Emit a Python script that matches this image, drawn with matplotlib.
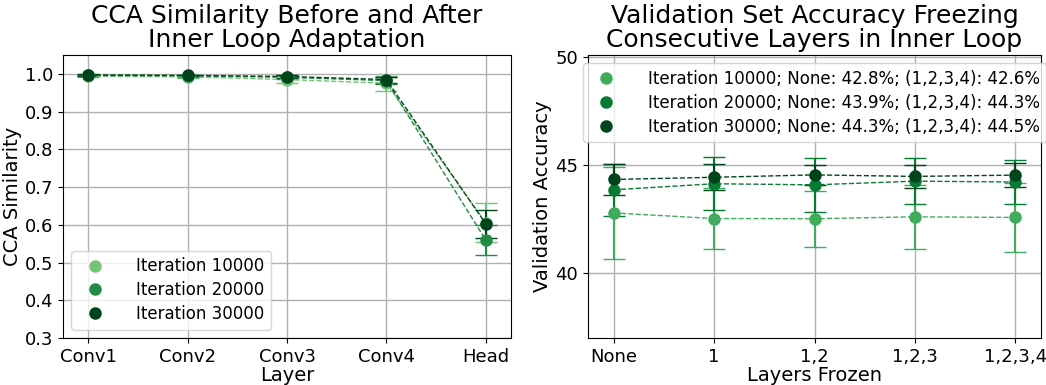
import matplotlib.pyplot as plt
import numpy as np

# left panel: CCA similarity per layer
layers = ["Conv1", "Conv2", "Conv3", "Conv4", "Head"]
cca_10k = [0.994, 0.992, 0.985, 0.975, 0.606]
cca_10k_err = [0.003, 0.004, 0.010, 0.020, 0.052]
cca_20k = [0.996, 0.995, 0.991, 0.982, 0.560]
cca_20k_err = [0.002, 0.003, 0.005, 0.010, 0.040]
cca_30k = [0.997, 0.996, 0.993, 0.985, 0.603]
cca_30k_err = [0.002, 0.002, 0.004, 0.008, 0.037]

# right panel: validation accuracy when freezing layers
frozen = ["None", "1", "1,2", "1,2,3", "1,2,3,4"]
acc_10k = [42.79, 42.53, 42.52, 42.61, 42.58]
acc_10k_err = [2.13, 1.42, 1.29, 1.47, 1.58]
acc_20k = [43.86, 44.14, 44.09, 44.26, 44.22]
acc_20k_err = [1.20, 1.23, 1.24, 1.05, 1.00]
acc_30k = [44.34, 44.44, 44.55, 44.48, 44.54]
acc_30k_err = [0.70, 0.60, 0.45, 0.52, 0.55]

left_colors = ["#74c476", "#238b45", "#00441b"]
right_colors = ["#41ab5d", "#097a34", "#00441b"]

plt.rcParams['font.family'] = 'DejaVu Sans'

fig = plt.figure(figsize=(10.46, 3.85), dpi=100)
ax1 = fig.add_axes([63 / 1046, 1 - 338 / 385, 448 / 1046, 283 / 385])
ax2 = fig.add_axes([588 / 1046, 1 - 338 / 385, 453 / 1046, 283 / 385])

x = np.arange(len(layers))
left_series = [(cca_10k, cca_10k_err, "Iteration 10000"),
               (cca_20k, cca_20k_err, "Iteration 20000"),
               (cca_30k, cca_30k_err, "Iteration 30000")]
for (vals, errs, lab), c in zip(left_series, left_colors):
    ax1.errorbar(x, vals, yerr=errs, color=c, linestyle='--', linewidth=1,
                 elinewidth=1.5, capsize=8, marker='o', markersize=8, label=lab)
ax1.set_xticks(x)
ax1.set_xticklabels(layers)
ax1.set_xlim(-0.255, 4.255)
ax1.set_ylim(0.3, 1.05)
ax1.set_yticks(np.arange(0.3, 1.01, 0.1))
ax1.grid(True, color='#b0b0b0', linewidth=1)
ax1.set_axisbelow(True)
ax1.tick_params(labelsize=13)
ax1.set_xlabel("Layer", fontsize=14, labelpad=0)
ax1.set_ylabel("CCA Similarity", fontsize=14, labelpad=2)
ax1.set_title("CCA Similarity Before and After\nInner Loop Adaptation", fontsize=18, linespacing=1.0)
# legend entries show only the marker
hs = [plt.Line2D([], [], color=c, marker='o', linestyle='none', markersize=8) for c in left_colors]
l = [s[2] for s in left_series]
ax1.legend(hs, l, loc='lower left', fontsize=12, handletextpad=1.5, labelspacing=0.35)

x2 = np.arange(len(frozen))
right_series = [(acc_10k, acc_10k_err, "Iteration 10000; None: 42.8%; (1,2,3,4): 42.6%"),
                (acc_20k, acc_20k_err, "Iteration 20000; None: 43.9%; (1,2,3,4): 44.3%"),
                (acc_30k, acc_30k_err, "Iteration 30000; None: 44.3%; (1,2,3,4): 44.5%")]
for (vals, errs, lab), c in zip(right_series, right_colors):
    ax2.errorbar(x2, vals, yerr=errs, color=c, linestyle='--', linewidth=1,
                 elinewidth=1.5, capsize=8, marker='o', markersize=8, label=lab)
ax2.set_xticks(x2)
ax2.set_xticklabels(frozen)
ax2.set_xlim(-0.255, 4.255)
ax2.set_ylim(37, 50.1)
ax2.set_yticks([40, 45, 50])
ax2.grid(True, color='#b0b0b0', linewidth=1)
ax2.set_axisbelow(True)
ax2.tick_params(labelsize=13)
ax2.set_xlabel("Layers Frozen", fontsize=14, labelpad=0)
ax2.set_ylabel("Validation Accuracy", fontsize=14, labelpad=2)
ax2.set_title("Validation Set Accuracy Freezing\nConsecutive Layers in Inner Loop", fontsize=18, linespacing=1.0)
hs2 = [plt.Line2D([], [], color=c, marker='o', linestyle='none', markersize=8) for c in right_colors]
l2 = [s[2] for s in right_series]
ax2.legend(hs2, l2, loc='upper center', fontsize=12, handletextpad=1.5, labelspacing=0.35)

fig.savefig("out.png", dpi=100)
